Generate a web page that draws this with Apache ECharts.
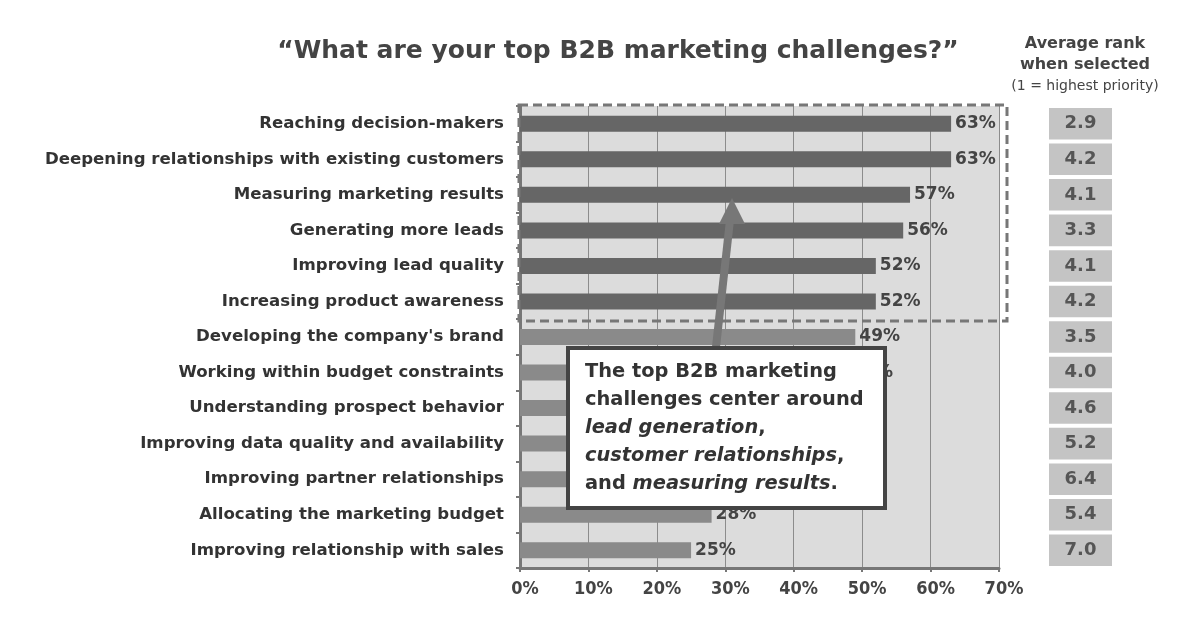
<!DOCTYPE html>
<html><head><meta charset="utf-8">
<script src="https://cdn.jsdelivr.net/npm/echarts@6/dist/echarts.min.js"></script>
<style>html,body{margin:0;padding:0;background:#fff}#c{width:1203px;height:641px}</style>
</head><body><div id="c"></div>
<script>
const categories = [
  'Reaching decision-makers',
  'Deepening relationships with existing customers',
  'Measuring marketing results',
  'Generating more leads',
  'Improving lead quality',
  'Increasing product awareness',
  "Developing the company's brand",
  'Working within budget constraints',
  'Understanding prospect behavior',
  'Improving data quality and availability',
  'Improving partner relationships',
  'Allocating the marketing budget',
  'Improving relationship with sales'
];
const percentSelected = [63, 63, 57, 56, 52, 52, 49, 48, 43, 39, 33, 28, 25];
const averageRank = [2.9, 4.2, 4.1, 3.3, 4.1, 4.2, 3.5, 4.0, 4.6, 5.2, 6.4, 5.4, 7.0];
const highlightCount = 6;
const xTicks = [0, 10, 20, 30, 40, 50, 60, 70];

const COND = '"DejaVu Sans Condensed", "DejaVu Sans", sans-serif';
const WIDE = '"DejaVu Sans", sans-serif';
const chart = echarts.init(document.getElementById('c'));

const option = {
  animation: false,
  backgroundColor: '#fff',
  title: [
    { text: '\u201CWhat are your top B2B marketing challenges?\u201D', left: 613, top: 34, textAlign: 'center',
      textStyle: { fontFamily: WIDE, fontSize: 25, fontWeight: 'bold', color: '#444' } },
    { text: 'Average rank\nwhen selected', left: 1080, top: 28, textAlign: 'center',
      textStyle: { fontFamily: WIDE, fontSize: 16, fontWeight: 'bold', color: '#444', lineHeight: 21 },
      subtext: '(1 = highest priority)', itemGap: 4,
      subtextStyle: { fontFamily: WIDE, fontSize: 14, color: '#444' } }
  ],
  grid: [
    { left: 520, right: 204, top: 106, bottom: 73, show: true, backgroundColor: '#dcdcdc', borderWidth: 0 },
    { left: 1049, width: 63, top: 106, bottom: 73 }
  ],
  xAxis: [
    { type: 'value', gridIndex: 0, min: xTicks[0], max: xTicks[xTicks.length - 1], interval: 10,
      axisLine: { show: true, lineStyle: { color: '#777', width: 3 } },
      axisTick: { show: true, length: 4, lineStyle: { color: '#777', width: 2 } },
      splitLine: { show: true, lineStyle: { color: '#8c8c8c', width: 1 } },
      axisLabel: { formatter: '{value}%', fontFamily: COND, fontSize: 18, fontWeight: 'bold', color: '#444',
        margin: 12, padding: [0, 0, 0, 10] } },
    { type: 'value', gridIndex: 1, min: 0, max: 1, show: false }
  ],
  yAxis: [
    { type: 'category', gridIndex: 0, data: categories, inverse: true,
      axisLine: { show: true, lineStyle: { color: '#777', width: 3 } },
      axisTick: { show: true, length: 4, lineStyle: { color: '#777', width: 2 } },
      axisLabel: { fontFamily: WIDE, fontSize: 16.6, fontWeight: 'bold', color: '#333', margin: 16 } },
    { type: 'category', gridIndex: 1, data: categories, inverse: true, show: false }
  ],
  series: [
    { type: 'bar', xAxisIndex: 0, yAxisIndex: 0, barWidth: 16,
      data: percentSelected.map((v, i) => ({ value: v, itemStyle: { color: i < highlightCount ? '#666666' : '#8a8a8a' } })),
      label: { show: true, position: 'right', distance: 4, formatter: '{c}%',
        fontFamily: WIDE, fontSize: 17, fontWeight: 'bold', color: '#444' } },
    { type: 'custom', xAxisIndex: 1, yAxisIndex: 1,
      data: averageRank.map((r, i) => [r, categories[i]]),
      encode: { x: 0, y: 1 },
      renderItem: function (params, api) {
        const cs = params.coordSys;
        const c = api.coord([0, api.value(1)]);
        const h = api.size([0, 1])[1];
        return { type: 'group', children: [
          { type: 'rect', shape: { x: cs.x, y: c[1] - h / 2 + 2, width: cs.width, height: h - 4 }, style: { fill: '#c4c4c4' } },
          { type: 'text', style: { text: Number(api.value(0)).toFixed(1), x: cs.x + cs.width / 2, y: c[1],
              textAlign: 'center', textVerticalAlign: 'middle', font: 'bold 18px ' + WIDE, fill: '#555' } }
        ] };
      } }
  ],
  graphic: [
    { type: 'rect', z: 100, shape: { x: 519, y: 105, width: 488, height: 216 },
      style: { fill: 'none', stroke: '#777', lineWidth: 3, lineDash: [9, 5] } },
    { type: 'line', z: 101, shape: { x1: 716, y1: 347, x2: 730, y2: 220 },
      style: { stroke: '#777', lineWidth: 8 } },
    { type: 'polygon', z: 101, shape: { points: [[732, 198], [745, 224], [719, 224]] },
      style: { fill: '#777' } },
    { type: 'rect', z: 102, shape: { x: 568, y: 348, width: 317, height: 160 },
      style: { fill: '#fff', stroke: '#444', lineWidth: 4 } },
    { type: 'text', z: 103, left: 585, top: 358,
      style: {
        text: 'The top B2B marketing\nchallenges center around\n{i|lead generation},\n{i|customer relationships},\nand {i|measuring results}.',
        font: 'bold 19.4px ' + WIDE, fill: '#333', lineHeight: 28,
        rich: { i: { fontStyle: 'italic', fontWeight: 'bold', fontSize: 19.4, fontFamily: WIDE, fill: '#333', lineHeight: 28 } }
      } }
  ]
};
chart.setOption(option);
</script>
</body></html>
